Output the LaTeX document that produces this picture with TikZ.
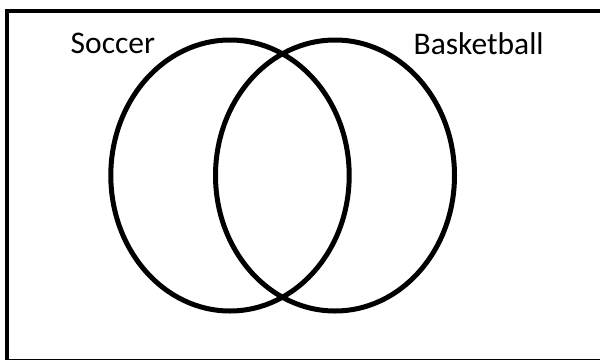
\documentclass[tikz,border=0pt]{standalone}
\usepackage{fontspec}
\setmainfont{Carlito}
\begin{document}
\begin{tikzpicture}[x=1pt,y=-1pt,
  venn/.style={draw=black,line width=5pt},
  frame/.style={draw=black,line width=4pt},
  lbl/.style={font=\fontsize{31.5}{38}\selectfont,inner sep=0pt,anchor=base west}]
\useasboundingbox (0,0) rectangle (600,359);
\begin{scope}
\clip (0,0) rectangle (600,359);
\draw[frame] (6.5,10.5) rectangle (610,361);
\end{scope}
\draw[venn] (230,175.5) ellipse [x radius=119.2, y radius=135.5];
\draw[venn] (335,175.5) ellipse [x radius=119.5, y radius=135.5];
\node[lbl] (soccer) at (70.5,53.5) {Soccer};
\node[lbl] (basket) at (413.5,54) {Basketball};
\end{tikzpicture}
\end{document}
